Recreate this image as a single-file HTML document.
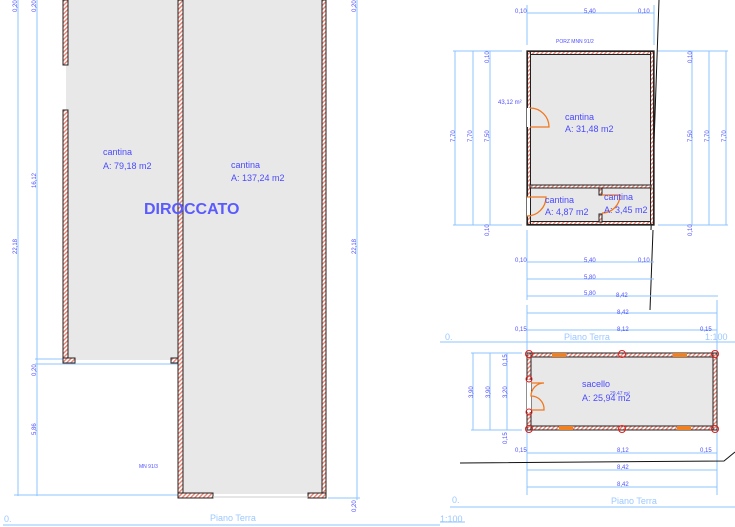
<!DOCTYPE html>
<html><head><meta charset="utf-8"><style>
html,body{margin:0;padding:0;background:#fff;width:735px;height:527px;overflow:hidden}
svg{display:block;font-family:"Liberation Sans",sans-serif}
.d{stroke:#8cc4ff;stroke-width:1;fill:none}
.t{fill:#5050ff;font-size:6px}
.w{fill:url(#h);stroke:#222;stroke-width:1}
.r{fill:#e8e8e8}
.l{fill:#4a4aff;font-size:9px}
.p{fill:#9cc8ff;font-size:9px}
.o{stroke:#f07820;stroke-width:1.3;fill:none}
</style></head><body>
<svg width="735" height="527" viewBox="0 0 735 527">
<defs>
<pattern id="h" width="3" height="3" patternUnits="userSpaceOnUse" patternTransform="rotate(45)">
<rect width="3" height="3" fill="#fff"/><rect width="1.4" height="3" fill="#e88070"/></pattern>
</defs>
<!-- LEFT PLAN -->
<rect class="r" x="66" y="0" width="112" height="360"/>
<rect class="r" x="183" y="0" width="139" height="494"/>
<line class="d" x1="18" y1="0" x2="18" y2="496"/>
<line class="d" x1="37" y1="0" x2="37" y2="496"/>
<line class="d" x1="357" y1="0" x2="357" y2="500"/>
<line class="d" x1="14" y1="495" x2="178" y2="495"/>
<line class="d" x1="35" y1="359" x2="75" y2="359"/>
<line class="d" x1="35" y1="364" x2="178" y2="364"/>
<line class="d" x1="328" y1="498" x2="360" y2="498"/>
<rect class="w" x="63" y="0" width="5" height="65"/>
<rect class="w" x="63" y="110" width="5" height="250"/>
<rect class="w" x="63" y="358" width="12" height="5"/>
<rect class="w" x="171" y="358" width="10" height="5"/>
<rect class="w" x="178" y="0" width="5" height="498"/>
<rect class="w" x="322" y="0" width="4" height="498"/>
<rect class="w" x="178" y="493" width="35" height="5"/>
<rect class="w" x="308" y="493" width="18" height="5"/>
<line x1="213" y1="497" x2="308" y2="497" stroke="#ccc"/>
<text class="t" transform="translate(17,12) rotate(-90)">0,20</text>
<text class="t" transform="translate(36,12) rotate(-90)">0,20</text>
<text class="t" transform="translate(36,188) rotate(-90)">16,12</text>
<text class="t" transform="translate(17,254) rotate(-90)">22,18</text>
<text class="t" transform="translate(356,254) rotate(-90)">22,18</text>
<text class="t" transform="translate(356,12) rotate(-90)">0,20</text>
<text class="t" transform="translate(36,376) rotate(-90)">0,20</text>
<text class="t" transform="translate(36,435) rotate(-90)">5,86</text>
<text class="t" transform="translate(356,512) rotate(-90)">0,20</text>
<text class="t" x="139" y="468" style="font-size:5px">MN 91/3</text>
<text class="l" x="103" y="155">cantina</text>
<text class="l" x="103" y="169">A: 79,18 m2</text>
<text class="l" x="231" y="168">cantina</text>
<text class="l" x="231" y="181">A: 137,24 m2</text>
<text x="144" y="214" fill="#5a5aff" font-size="16" font-weight="bold">DIROCCATO</text>
<line class="d" x1="3" y1="525" x2="440" y2="525"/>
<text class="p" x="4" y="522">0.</text>
<text class="p" x="210" y="521">Piano Terra</text>
<text class="p" x="440" y="522">1:100</text>
<!-- RIGHT TOP PLAN -->
<line x1="659" y1="0" x2="651" y2="230" stroke="#111"/>
<line x1="653" y1="230" x2="650" y2="310" stroke="#111"/>
<g class="d">
<line x1="527" y1="5" x2="527" y2="45"/><line x1="654" y1="5" x2="654" y2="45"/>
<line x1="527" y1="13" x2="654" y2="13"/>
<line x1="455" y1="51" x2="455" y2="225"/><line x1="473" y1="51" x2="473" y2="225"/><line x1="490" y1="51" x2="490" y2="225"/>
<line x1="453" y1="51" x2="522" y2="51"/><line x1="453" y1="225" x2="522" y2="225"/>
<line x1="692" y1="51" x2="692" y2="225"/><line x1="709" y1="51" x2="709" y2="225"/><line x1="726" y1="51" x2="726" y2="225"/>
<line x1="658" y1="51" x2="728" y2="51"/><line x1="658" y1="225" x2="728" y2="225"/>
<line x1="527" y1="230" x2="527" y2="300"/>
<line x1="527" y1="262" x2="654" y2="262"/><line x1="527" y1="279" x2="654" y2="279"/><line x1="527" y1="296" x2="718" y2="296"/>
</g>
<rect class="r" x="530" y="54" width="121" height="168"/>
<rect x="527" y="51" width="127" height="174" fill="none" stroke="#222" stroke-width="1.3"/>
<rect class="w" x="527.5" y="51.5" width="126" height="3"/>
<rect class="w" x="527.5" y="221.5" width="126" height="3"/>
<rect class="w" x="527.5" y="51.5" width="3" height="173"/>
<rect class="w" x="650.5" y="51.5" width="3" height="173"/>
<rect class="w" x="530" y="185" width="121" height="3"/>
<rect class="w" x="599" y="188" width="3" height="7"/><rect class="w" x="599" y="214" width="3" height="8"/>
<rect x="527" y="108" width="3" height="19" fill="#fff"/>
<rect x="527" y="197" width="3" height="19" fill="#fff"/>
<path class="o" d="M530 108 A19 19 0 0 1 549 127 L530 127"/>
<path class="o" d="M527 197 L546 197 A19 19 0 0 1 527 216"/>
<path class="o" d="M602 195 L620 195 A18 18 0 0 1 602 213"/>
<text class="t" x="515" y="13">0,10</text><text class="t" x="584" y="13">5,40</text><text class="t" x="638" y="13">0,10</text>
<text class="t" x="556" y="43" style="font-size:5px">PORZ MNN 91/2</text>
<text class="t" x="498" y="104">43,12 m²</text>
<text class="t" x="515" y="262">0,10</text><text class="t" x="584" y="262">5,40</text><text class="t" x="638" y="262">0,10</text>
<text class="t" x="584" y="279">5,80</text><text class="t" x="584" y="295">5,80</text><text class="t" x="616" y="297">8,42</text>
<text class="t" transform="translate(455,142) rotate(-90)">7,70</text>
<text class="t" transform="translate(472,142) rotate(-90)">7,70</text>
<text class="t" transform="translate(489,142) rotate(-90)">7,50</text>
<text class="t" transform="translate(489,63) rotate(-90)">0,10</text>
<text class="t" transform="translate(489,236) rotate(-90)">0,10</text>
<text class="t" transform="translate(692,142) rotate(-90)">7,50</text>
<text class="t" transform="translate(709,142) rotate(-90)">7,70</text>
<text class="t" transform="translate(726,142) rotate(-90)">7,70</text>
<text class="t" transform="translate(692,63) rotate(-90)">0,10</text>
<text class="t" transform="translate(692,236) rotate(-90)">0,10</text>
<text class="l" x="565" y="120">cantina</text><text class="l" x="565" y="132">A: 31,48 m2</text>
<text class="l" x="545" y="203">cantina</text><text class="l" x="545" y="215">A: 4,87 m2</text>
<text class="l" x="604" y="200">cantina</text><text class="l" x="604" y="213">A: 3,45 m2</text>
<!-- SACELLO -->
<g class="d">
<line x1="527" y1="305" x2="527" y2="495"/><line x1="717" y1="300" x2="717" y2="495"/>
<line x1="527" y1="313" x2="717" y2="313"/><line x1="527" y1="330" x2="717" y2="330"/>
<line x1="440" y1="342" x2="735" y2="342"/>
<line x1="473" y1="353" x2="473" y2="430"/><line x1="490" y1="353" x2="490" y2="430"/><line x1="507" y1="353" x2="507" y2="430"/>
<line x1="471" y1="353" x2="522" y2="353"/><line x1="471" y1="430" x2="522" y2="430"/>
<line x1="527" y1="453" x2="717" y2="453"/><line x1="527" y1="470" x2="717" y2="470"/><line x1="527" y1="487" x2="717" y2="487"/>
<line x1="450" y1="507" x2="735" y2="507"/>
<line x1="440" y1="522" x2="465" y2="522"/>
</g>
<polyline points="460,463 724,461 735,452" fill="none" stroke="#111"/>
<rect class="r" x="530" y="356" width="185" height="71"/>
<rect class="w" x="527" y="353" width="190" height="4"/>
<rect class="w" x="527" y="426" width="190" height="4"/>
<rect class="w" x="527" y="353" width="4" height="77"/>
<rect class="w" x="713" y="353" width="4" height="77"/>
<g fill="#f08020"><rect x="552" y="353" width="14" height="4"/><rect x="673" y="353" width="14" height="4"/><rect x="559" y="426" width="14" height="4"/><rect x="677" y="426" width="14" height="4"/></g>
<rect x="527" y="380" width="4" height="32" fill="#fff"/>
<path class="o" d="M531 383 L544 383 A13 13 0 0 0 531 396 A13 13 0 0 1 544 410 L531 410"/>
<g fill="none" stroke="#e02020" stroke-width="1">
<circle cx="529" cy="354" r="3.5"/><circle cx="622" cy="354" r="3.5"/><circle cx="715" cy="354" r="3.5"/>
<circle cx="529" cy="429" r="3.5"/><circle cx="622" cy="429" r="3.5"/><circle cx="715" cy="429" r="3.5"/>
<circle cx="529" cy="379" r="3"/><circle cx="529" cy="412" r="3"/>
</g>
<text class="t" x="515" y="331">0,15</text><text class="t" x="617" y="331">8,12</text><text class="t" x="700" y="331">0,15</text>
<text class="t" x="617" y="314">8,42</text>
<text class="p" x="445" y="340">0.</text><text class="p" x="564" y="340">Piano Terra</text><text class="p" x="705" y="340">1:100</text>
<text class="t" transform="translate(473,398) rotate(-90)">3,90</text>
<text class="t" transform="translate(490,398) rotate(-90)">3,90</text>
<text class="t" transform="translate(507,398) rotate(-90)">3,20</text>
<text class="t" transform="translate(507,366) rotate(-90)">0,15</text>
<text class="t" transform="translate(507,444) rotate(-90)">0,15</text>
<text class="l" x="582" y="387">sacello</text><text class="l" x="582" y="401">A: 25,94 m2</text>
<text class="t" x="610" y="395" style="font-size:5px">29,47 m²</text>
<text class="t" x="515" y="452">0,15</text><text class="t" x="617" y="452">8,12</text><text class="t" x="700" y="452">0,15</text>
<text class="t" x="617" y="469">8,42</text><text class="t" x="617" y="486">8,42</text>
<text class="p" x="452" y="503">0.</text><text class="p" x="611" y="504">Piano Terra</text>
</svg>
</body></html>
